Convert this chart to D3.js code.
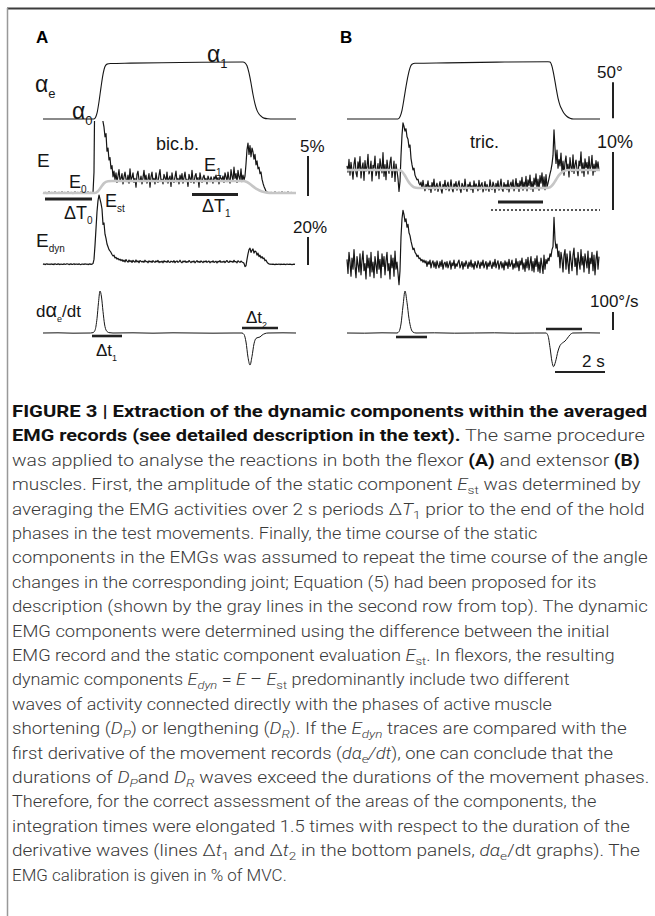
<!DOCTYPE html>
<html>
<head>
<meta charset="utf-8">
<script src="https://cdn.jsdelivr.net/npm/d3@7"></script>
<style>
  body { margin: 0; background: #fff; }
  svg { display: block; }
</style>
</head>
<body>
<svg id="fig" width="655" height="916"></svg>
<script>
// ---------- recorded traces ----------
// EMG records are sampled every sampleStep seconds, starting at t = 0
const sampleStep = 0.04;

// bic.b. EMG, E (% MVC)
const emgA = [
  0.40,0.35,0.45,0.40,0.30,0.40,0.50,0.35,0.40,0.45,
  0.35,0.40,0.50,0.40,0.35,0.40,0.45,0.40,0.35,0.50,
  0.40,0.40,0.45,0.35,0.40,0.50,0.40,0.35,0.45,0.40,
  0.30,0.40,0.50,0.35,0.40,0.45,0.35,0.40,0.50,0.40,
  0.35,0.40,0.45,0.40,0.35,0.50,0.40,0.40,0.45,0.35,
  0.40,3.0,16,20,22,21,19,18,14,11,
  9.3,8.6,7.4,7.8,5.6,6.0,4.5,4.8,3.4,3.8,
  2.4,3.1,2.0,2.9,1.7,2.5,3.3,1.9,2.2,2.8,
  1.5,2.4,3.0,2.1,1.8,2.6,1.6,3.4,2.0,2.3,
  2.9,1.7,2.2,1.1,2.7,3.1,2.0,1.8,2.5,1.5,
  2.3,3.2,1.9,2.6,1.6,2.1,2.8,1.1,2.4,3.0,
  1.8,2.2,1.5,2.9,2.0,1.7,2.6,3.3,1.9,2.1,
  1.5,2.7,2.3,1.8,3.0,1.6,2.2,2.5,1.2,2.9,
  2.0,1.7,2.4,3.1,1.8,2.2,1.5,2.6,2.0,2.8,
  1.6,2.3,3.0,1.9,2.1,1.2,2.7,2.2,1.7,3.2,
  2.0,1.6,2.5,2.8,1.8,2.3,1.1,2.9,2.1,1.7,
  2.3,2.6,1.9,2.2,1.5,2.5,2.1,1.8,2.4,2.0,
  1.6,2.4,2.1,2.6,1.9,2.3,1.5,2.5,2.2,2.0,
  2.5,1.7,2.9,2.4,1.8,3.0,2.1,1.6,3.3,2.5,
  1.9,3.6,2.2,2.8,1.7,3.2,2.4,2.0,3.4,1.8,
  2.6,2.0,2.5,4.0,5.8,6.6,5.2,6.3,4.9,6.0,
  5.5,4.6,5.2,3.9,4.4,3.4,3.6,2.8,3.0,2.1,
  1.6,1.2,0.9,0.6,0.5,0.4,0.40,0.35,0.45,0.40,
  0.35,0.40,0.50,0.40,0.35,0.40,0.45,0.40,0.35,0.50,
  0.40,0.40,0.45,0.35,0.40,0.50,0.40,0.35,0.45,0.40,
  0.40,0.35,0.40
];
// bic.b. dynamic component, Edyn (% MVC)
const emgDynA = [
  0.4,0.8,0.3,0.6,0.9,0.4,0.7,0.3,0.8,0.5,
  0.6,0.3,0.9,0.5,0.4,0.8,0.6,0.3,0.7,0.5,
  0.4,0.8,0.5,0.6,0.9,0.7,0.3,0.6,0.8,0.4,
  0.5,0.9,0.3,0.7,0.6,0.4,0.8,0.5,0.3,0.7,
  0.6,0.4,0.9,0.5,0.7,0.3,0.6,0.8,0.4,0.6,
  1.0,4,14,26,38,46,50,47,44,40,
  29,30,22,19,15,13,11,10,9,7.5,
  6.5,7,5,5.5,4.2,4.8,3.6,4.2,3.1,3.8,
  2.6,3.4,2.2,3.9,2.8,2.0,3.5,2.4,3.1,1.8,
  3.3,2.5,2.0,3.6,2.2,2.9,1.7,3.2,2.6,2.1,
  2.8,1.9,3.4,2.3,2.6,1.6,3.0,2.2,2.7,1.8,
  3.1,2.4,1.9,2.9,2.2,3.3,1.7,2.5,2.0,2.8,
  1.6,3.0,2.3,2.6,1.9,3.2,2.1,1.8,2.7,2.4,
  2.0,3.1,1.7,2.5,2.9,1.9,2.3,3.4,2.1,1.6,
  2.8,2.2,3.0,1.8,2.5,2.0,3.2,2.4,1.7,2.6,
  2.1,2.9,1.6,2.4,3.1,2.0,2.6,1.8,2.9,2.3,
  1.7,2.7,2.2,3.0,1.9,2.4,2.8,1.6,2.5,2.1,
  3.0,1.8,2.3,2.7,1.5,2.6,2.2,3.1,1.9,2.4,
  2.0,2.8,1.7,2.5,3.2,2.1,1.8,2.9,2.3,2.6,
  1.9,3.3,2.2,2.5,1.6,3.0,2.4,1.9,2.8,2.2,
  1.8,1.2,-1.2,-0.5,4,8,11,12,9,10.5,
  11.5,8.5,10,9.5,7,8.5,6,7,5,6,
  4.5,5,3,3.5,2,1.2,0.8,0.5,0.7,0.4,
  0.6,0.5,0.3,0.6,0.4,0.5,0.7,0.3,0.6,0.5,
  0.4,0.6,0.5,0.3,0.7,0.5,0.4,0.6,0.5,0.3,
  0.5,0.6,0.4
];
// tric. EMG, E (% MVC)
const emgB = [
  5.2,4.1,6.3,3.6,5.8,4.4,2.9,5.5,6.6,4.0,
  3.3,5.9,4.6,6.8,3.1,4.9,5.7,2.7,6.1,4.3,
  5.0,7.2,3.8,4.5,6.0,2.6,5.3,4.8,6.9,3.5,
  4.2,5.6,3.0,6.4,5.1,4.0,7.5,3.4,5.4,2.8,
  6.2,4.7,3.9,5.8,6.7,3.2,4.4,6.0,2.5,5.5,
  4.3,3.0,0.8,2.5,7.0,10.5,12.6,12.0,11.2,11.6,
  10.2,9.8,8.4,8.8,6.5,5.4,4.5,4.8,3.6,3.2,
  2.8,2.9,2.2,1.9,2.4,1.3,2.7,1.6,0.9,2.0,
  1.4,2.6,1.1,1.8,0.6,2.3,1.5,2.9,1.0,1.7,
  2.2,0.8,1.6,2.5,1.2,0.5,2.0,1.4,2.7,1.1,
  1.8,2.4,0.9,1.5,2.8,1.3,0.7,2.1,1.6,2.5,
  1.0,1.9,2.6,1.2,0.6,2.2,1.7,1.1,2.9,1.4,
  0.8,2.0,1.5,2.4,1.1,1.8,0.6,2.6,1.3,2.1,
  1.6,0.9,2.7,1.2,1.9,2.3,0.7,1.5,2.5,1.0,
  2.0,1.4,0.8,2.8,1.6,1.1,2.4,1.8,0.6,2.2,
  1.3,2.6,1.0,1.7,2.9,1.2,0.8,2.3,1.5,2.0,
  1.1,2.7,0.7,1.9,2.4,1.3,2.8,0.9,1.6,3.0,
  1.4,2.2,0.8,2.6,1.7,3.2,1.0,2.4,1.5,3.4,
  0.9,2.8,1.8,3.6,1.2,2.5,0.8,3.1,1.9,3.8,
  1.3,2.9,1.0,3.5,2.2,4.0,1.4,3.3,1.1,3.7,
  1.6,2.2,3.0,3.8,4.5,5.5,7.0,11.4,8.2,5.6,
  7.9,4.8,6.3,5.2,7.4,4.1,6.0,3.6,5.8,6.9,
  4.4,5.5,3.3,6.6,5.0,4.2,7.1,3.9,5.4,6.2,
  4.6,3.5,6.0,5.2,7.6,4.0,5.7,3.4,6.4,4.9,
  5.8,3.8,6.8,4.5,5.1,7.0,3.6,5.5,4.2,6.1,
  4.7,5.9,4.4
];
// tric. dynamic component, Edyn (% MVC)
const emgDynB = [
  4,-6,9,2,-8,5,-3,11,-1,-9,
  6,0,-5,8,-7,3,10,-4,1,-10,
  7,-2,5,-8,9,-5,2,-9,6,0,
  -6,10,-3,4,-9,8,-1,6,-7,3,
  9,-4,1,-10,7,-2,5,-8,10,-3,
  2,-6,-14,-4,20,33,39,36,31,33,
  27,29,23,21,17,14,11,12,9,8,
  6,7,4.5,5,3,4,2,3.5,1.5,3,
  -1,2.5,0.5,3.5,-2,1.5,3,-1.5,2,-2.5,
  3,0,-2,2.5,-1,3.5,-3,1,2,-1.5,
  2.5,-2,0.5,3,-3,1.5,-0.5,3.5,-2.5,1,
  -1,2,3.5,-2,0,2.5,-3,1.5,-1,3,
  0.5,-2.5,2,-1,3.5,-1.5,1,-3,2.5,0,
  -2,3,1,-2.5,2,-0.5,3.5,-2,0.5,2.5,
  -3,1.5,-1,3,0,-2.5,2,-1,4,-2,
  1,3,-3,0.5,2.5,-2,1.5,-3.5,3,-0.5,
  2,-2.5,4,-1,0.5,3.5,-3,1,-2,4.5,
  -1.5,2.5,-4,3,0,5,-3,1.5,-4.5,4,
  -2,5.5,-3.5,1,6,-4,2.5,-5,4.5,-1,
  6.5,-4.5,2,-5.5,5,0,-6,7,-3,4,
  1,5,3,8,6,11,13,34,18,12,
  15,6,10,-2,9,4,-5,7,11,-3,
  8,1,-6,10,3,-4,7,12,-1,5,
  -7,9,2,-3,11,0,6,-5,8,3,
  -2,10,-6,5,1,9,-4,7,-7,4,
  10,-3,6
];

// joint angle, alpha_e (deg)
const angleTimeA = [0,2.04,2.1,2.16,2.24,2.32,2.4,2.48,2.56,2.7,3.5,5.5,8.0,8.08,8.16,8.24,8.32,8.4,8.48,8.56,8.64,8.72,8.84,9.0,9.2,10.12];
const angleA     = [0,0,2,8,24,44,62,73,76.2,77,77.6,78.4,79.2,78,74,64,50,34,21,12,7,4,1.2,0.3,0,0];
const angleTimeB = [0,2.04,2.12,2.2,2.28,2.36,2.44,2.52,2.6,2.72,4.0,6.0,8.04,8.12,8.2,8.28,8.36,8.44,8.52,8.6,8.68,8.8,8.92,9.06,10.12];
const angleB     = [0,0,3,12,28,45,60,71,76,77.4,78,79,79.6,79,73,60,44,29,19,13,8,3.5,1.2,0,0];

// static EMG component, Est (% MVC) - gray lines
const staticTimeA = [0,2.08,2.2,2.32,2.44,2.6,2.76,8.0,8.16,8.36,8.56,8.76,8.96,9.16,10.12];
const staticA     = [0.375,0.375,0.6,1.1,1.6,1.85,1.875,1.875,1.75,1.3,0.85,0.55,0.42,0.375,0.375];
const staticTimeB = [0,2.08,2.2,2.32,2.44,2.56,2.68,2.84,8.0,8.12,8.24,8.36,8.48,8.6,8.72,8.84,10.12];
const staticB     = [4.48,4.48,4.2,3.5,2.6,1.9,1.5,1.38,1.38,1.5,2.0,2.8,3.6,4.1,4.38,4.48,4.48];

// angular velocity, d alpha_e / dt (deg/s)
const derivTimeA = [0,0.6,1.2,1.9,2.0,2.08,2.16,2.22,2.28,2.34,2.4,2.46,2.54,2.64,2.8,3.6,4.4,5.2,6.0,6.8,7.6,7.96,8.04,8.12,8.2,8.28,8.36,8.44,8.52,8.6,8.68,8.76,8.88,9.0,9.6,10.12];
const derivA     = [0,1,-1,0,2,15,80,170,233,200,120,50,12,2,0,1,-1,1,0,-1,0,0,-8,-50,-135,-178,-130,-60,-30,-25,-22,-12,-3,0,1,0];
const derivTimeB = [0,0.7,1.4,2.0,2.08,2.16,2.24,2.32,2.4,2.48,2.56,2.64,2.76,3.5,4.3,5.1,5.9,6.7,7.5,7.96,8.04,8.12,8.2,8.26,8.34,8.44,8.52,8.62,8.72,8.82,8.92,9.04,9.6,10.12];
const derivB     = [0,-1,1,0,8,50,150,233,170,80,25,5,0,1,-1,0,1,-1,0,0,-15,-80,-160,-187,-160,-100,-70,-55,-45,-28,-10,0,1,0];

// analysis windows (s)
const windowNames  = ["ΔT0", "ΔT1", "Δt1", "Δt2"];
const windowsA     = [[0.08, 1.96], [5.96, 7.8], [1.96, 3.16], [7.96, 9.4]];
const windowsB     = [null, [6.04, 7.84], [1.96, 3.2], [7.96, 9.4]];
const refLineB     = [5.76, 10.12];

// calibration bars
const calibLabels = ["50°", "5%", "10%", "20%", "100°/s", "2 s"];
const calibSizes  = [50, 5, 10, 20, 100, 2];

// ---------- drawing ----------
const svg = d3.select("#fig");
const LABEL_FONT = "'Liberation Sans', Arial, Helvetica, sans-serif";
const INK = "#161616";

// figure frame (top and left rules)
svg.append("line").attr("x1", 7).attr("x2", 655).attr("y1", 8.5).attr("y2", 8.5)
  .attr("stroke", "#3c3c3c").attr("stroke-width", 2);
svg.append("line").attr("x1", 7.5).attr("x2", 7.5).attr("y1", 8).attr("y2", 916)
  .attr("stroke", "#999").attr("stroke-width", 1.5);

const tEnd = 10.12;
const xA = d3.scaleLinear().domain([0, tEnd]).range([43, 296]);
const xB = d3.scaleLinear().domain([0, tEnd]).range([347, 600]);

const yAngle = d3.scaleLinear().domain([0, 50]).range([119, 83]);
const yEmgA  = d3.scaleLinear().domain([0, 5]).range([196, 156]);
const yEmgB  = d3.scaleLinear().domain([0, 10]).range([196, 138]);
const yDyn   = d3.scaleLinear().domain([0, 20]).range([265, 237]);
const yDeriv = d3.scaleLinear().domain([0, 100]).range([333, 315]);

// clip for the over-range bic.b. burst
svg.append("clipPath").attr("id", "clipEA")
  .append("rect").attr("x", 0).attr("y", 121).attr("width", 655).attr("height", 300);

function smoothTrace(times, vals, x, y, width, color) {
  const line = d3.line().x((d, i) => x(times[i])).y(d => y(d)).curve(d3.curveMonotoneX);
  return svg.append("path").attr("d", line(vals)).attr("fill", "none")
    .attr("stroke", color).attr("stroke-width", width).attr("stroke-linejoin", "round");
}
function sampledTrace(vals, x, y, width, color) {
  const line = d3.line().x((d, i) => x(i * sampleStep)).y(d => y(d));
  return svg.append("path").attr("d", line(vals)).attr("fill", "none")
    .attr("stroke", color).attr("stroke-width", width).attr("stroke-linejoin", "round");
}

// angle traces
smoothTrace(angleTimeA, angleA, xA, yAngle, 1.1, INK);
smoothTrace(angleTimeB, angleB, xB, yAngle, 1.1, INK);

// EMG with its static component
sampledTrace(emgA, xA, yEmgA, 1.2, INK).attr("clip-path", "url(#clipEA)");
smoothTrace(staticTimeA, staticA, xA, yEmgA, 2.6, "#c6c6c6");
sampledTrace(emgB, xB, yEmgB, 1.2, INK);
smoothTrace(staticTimeB, staticB, xB, yEmgB, 2.6, "#c6c6c6");

// dynamic components
sampledTrace(emgDynA, xA, yDyn, 1.2, INK);
sampledTrace(emgDynB, xB, yDyn, 1.2, INK);

// velocity traces
smoothTrace(derivTimeA, derivA, xA, yDeriv, 1.0, INK);
smoothTrace(derivTimeB, derivB, xB, yDeriv, 1.0, INK);

// analysis windows
function hbar(x, win, yPos, w) {
  svg.append("line").attr("x1", x(win[0])).attr("x2", x(win[1]))
    .attr("y1", yPos).attr("y2", yPos).attr("stroke", "#222").attr("stroke-width", w);
}
const winRowsA = [199, 194.5, 336, 328];
const winRowsB = [null, 202, 337, 329];
windowNames.forEach((n, i) => {
  hbar(xA, windowsA[i], winRowsA[i], i < 2 ? 3 : 2.6);
  if (windowsB[i]) hbar(xB, windowsB[i], winRowsB[i], i < 2 ? 3 : 2.6);
});
svg.append("line").attr("x1", xB(refLineB[0])).attr("x2", xB(refLineB[1]))
  .attr("y1", 210).attr("y2", 210).attr("stroke", "#222").attr("stroke-width", 1.6)
  .attr("stroke-dasharray", "2,2");

// calibration bars
function vbar(xPos, y, from, size) {
  svg.append("line").attr("x1", xPos).attr("x2", xPos)
    .attr("y1", y(from)).attr("y2", y(from + size)).attr("stroke", "#222").attr("stroke-width", 2);
}
vbar(613, yAngle, 1, calibSizes[0]);
vbar(308, yEmgA, 0, calibSizes[1]);
vbar(613, yEmgB, -2.4, calibSizes[2]);
vbar(308, yDyn, 0, calibSizes[3]);
vbar(613, yDeriv, 17, calibSizes[4]);
svg.append("line").attr("x1", xB(8.32)).attr("x2", xB(8.32 + calibSizes[5]))
  .attr("y1", 372).attr("y2", 372).attr("stroke", "#222").attr("stroke-width", 2);

// ---------- labels ----------
function label(x, y, parts, size, opts = {}) {
  const t = svg.append("text").attr("x", x).attr("y", y)
    .attr("font-family", LABEL_FONT).attr("font-size", size).attr("fill", opts.fill || INK)
    .attr("font-weight", opts.bold ? 700 : 400);
  let shift = 0;
  parts.forEach(p => {
    const [txt, kind] = Array.isArray(p) ? p : [p, null];
    const sp = t.append("tspan").text(txt);
    const target = kind === "sub" ? Math.round(size * 0.28) : 0;
    if (target !== shift) { sp.attr("dy", target - shift); shift = target; }
    if (kind === "sub") sp.attr("font-size", Math.round(size * 0.55));
    if (kind === "big") sp.attr("font-size", Math.round(size * 1.2));
  });
  return t;
}

label(36, 43, ["A"], 17, { bold: true, fill: "#000" });
label(340, 43, ["B"], 17, { bold: true, fill: "#000" });

label(35, 92, ["α", ["e", "sub"]], 23);
label(72, 119, ["α", ["0", "sub"]], 23);
label(207, 62, ["α", ["1", "sub"]], 23);

label(37, 167, ["E"], 19);
label(69, 188, ["E", ["0", "sub"]], 18);
label(204, 171, ["E", ["1", "sub"]], 18);
label(156, 150, ["bic.b."], 18);
label(105, 207, ["E", ["st", "sub"]], 18);
label(64, 219, ["ΔT", ["0", "sub"]], 18);
label(202, 212, ["ΔT", ["1", "sub"]], 18);
label(36, 247, ["E", ["dyn", "sub"]], 19);
label(36, 317, ["d", ["α", "big"], ["e", "sub"], "/dt"], 17);
label(246, 323, ["Δt", ["2", "sub"]], 17);
label(96, 356, ["Δt", ["1", "sub"]], 17);

label(470, 148, ["tric."], 18);

label(300, 152, [calibLabels[1]], 17);
label(293, 233, [calibLabels[3]], 17);
label(597, 78, [calibLabels[0]], 17);
label(597, 148, [calibLabels[2]], 18);
label(590, 307, [calibLabels[4]], 17);
label(582, 367, [calibLabels[5]], 17);

// ---------- caption ----------
const captionLines = [
  [["FIGURE 3 | Extraction of the dynamic components within the averaged", "b"]],
  [["EMG records (see detailed description in the text).", "b"], [" The same procedure"]],
  [["was applied to analyse the reactions in both the flexor "], ["(A)", "b"], [" and extensor "], ["(B)", "b"]],
  [["muscles. First, the amplitude of the static component "], ["E", "i"], ["st", "s"], [" was determined by"]],
  [["averaging the EMG activities over 2 s periods Δ"], ["T", "i"], ["1", "s"], [" prior to the end of the hold"]],
  [["phases in the test movements. Finally, the time course of the static"]],
  [["components in the EMGs was assumed to repeat the time course of the angle"]],
  [["changes in the corresponding joint; Equation (5) had been proposed for its"]],
  [["description (shown by the gray lines in the second row from top). The dynamic"]],
  [["EMG components were determined using the difference between the initial"]],
  [["EMG record and the static component evaluation "], ["E", "i"], ["st", "s"], [". In flexors, the resulting"]],
  [["dynamic components "], ["E", "i"], ["dyn", "si"], [" = "], ["E", "i"], [" – "], ["E", "i"], ["st", "s"], [" predominantly include two different"]],
  [["waves of activity connected directly with the phases of active muscle"]],
  [["shortening ("], ["D", "i"], ["P", "si"], [") or lengthening ("], ["D", "i"], ["R", "si"], ["). If the "], ["E", "i"], ["dyn", "si"], [" traces are compared with the"]],
  [["first derivative of the movement records ("], ["dα", "i"], ["e", "s"], ["/dt", "i"], ["), one can conclude that the"]],
  [["durations of "], ["D", "i"], ["P", "si"], ["and "], ["D", "i"], ["R", "si"], [" waves exceed the durations of the movement phases."]],
  [["Therefore, for the correct assessment of the areas of the components, the"]],
  [["integration times were elongated 1.5 times with respect to the duration of the"]],
  [["derivative waves (lines Δ"], ["t", "i"], ["1", "s"], [" and Δ"], ["t", "i"], ["2", "s"], [" in the bottom panels, "], ["dα", "i"], ["e", "s"], ["/dt graphs). The"]],
  [["EMG calibration is given in % of MVC."]]
];
// right edge of each set line (the column is set ragged-right in a condensed face)
const lineEnds = [648, 645, 640, 641, 645, 538, 648, 597, 648, 610, 615, 570, 552, 627, 613, 650, 597, 630, 640, 287];

const CAP_FONT = "Roboto, 'Liberation Sans', Arial, sans-serif";
const capSize = 16, capTop = 417, capGap = 24.4, capLeft = 12;
const cap = svg.append("g");
captionLines.forEach((segs, li) => {
  const yPos = capTop + li * capGap;
  const t = cap.append("text").attr("x", 0).attr("y", 0)
    .attr("font-family", CAP_FONT).attr("font-size", capSize)
    .attr("font-weight", 300).attr("fill", "#3a3a3a");
  let shift = 0;
  segs.forEach(([txt, kind]) => {
    const sp = t.append("tspan").text(txt);
    const isSub = kind === "s" || kind === "si";
    const target = isSub ? 4 : 0;
    if (target !== shift) { sp.attr("dy", target - shift); shift = target; }
    if (isSub) sp.attr("font-size", 11.5);
    if (kind === "b") sp.attr("font-weight", 700).attr("fill", "#111");
    if (kind === "i" || kind === "si") sp.attr("font-style", "italic");
  });
  const w = t.node().getComputedTextLength();
  const sx = (lineEnds[li] - capLeft) / w;
  t.attr("transform", `translate(${capLeft},${yPos}) scale(${sx},1)`);
});
</script>
</body>
</html>
